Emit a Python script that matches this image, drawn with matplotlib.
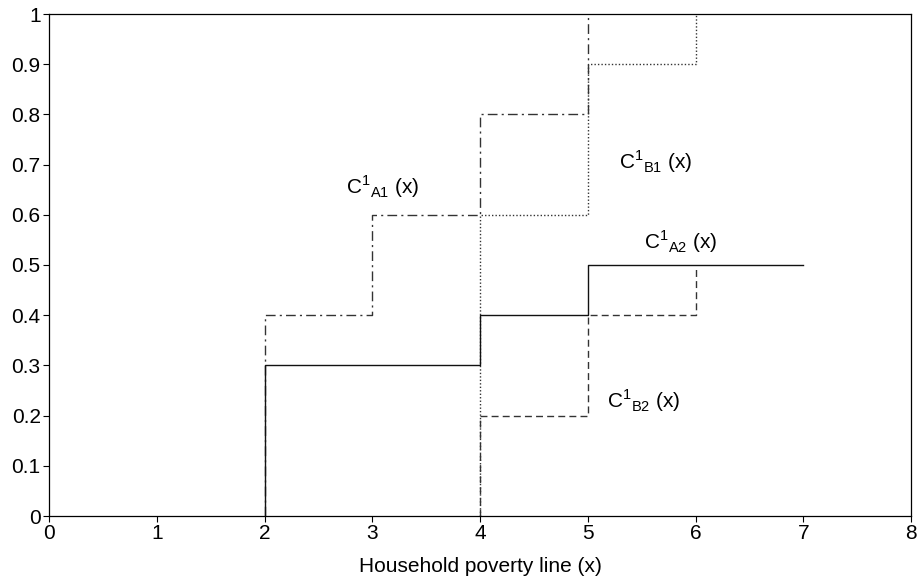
import matplotlib
matplotlib.use('Agg')
import matplotlib.pyplot as plt

plt.rcParams['font.family'] = ['Liberation Sans', 'DejaVu Sans']
plt.rcParams['mathtext.fontset'] = 'custom'
plt.rcParams['mathtext.rm'] = 'Liberation Sans'

# step curves: x breakpoints and the level reached at each one
a1_x = [2, 2, 3, 3, 4, 4, 5, 5]
a1_y = [0, 0.4, 0.4, 0.6, 0.6, 0.8, 0.8, 1.0]

b1_x = [4, 4, 5, 5, 6, 6]
b1_y = [0, 0.6, 0.6, 0.9, 0.9, 1.0]

a2_x = [2, 2, 4, 4, 5, 5, 7]
a2_y = [0, 0.3, 0.3, 0.4, 0.4, 0.5, 0.5]

b2_x = [4, 4, 5, 5, 6, 6]
b2_y = [0, 0.2, 0.2, 0.4, 0.4, 0.5]

labels = ['A1', 'B1', 'A2', 'B2']
label_pos = [(3.10, 0.655), (5.63, 0.705), (5.86, 0.546), (5.52, 0.229)]

fig = plt.figure(figsize=(9.22, 5.82), dpi=100)
ax = fig.add_axes([49 / 922, 66 / 582, 862 / 922, 502 / 582])

lw = 1.0
ax.plot(b1_x, b1_y, color='#333333', lw=lw, linestyle=(0, (1, 1.5)))
ax.plot(b2_x, b2_y, color='#333333', lw=lw, linestyle=(0, (5, 3)))
ax.plot(a1_x, a1_y, color='#333333', lw=lw, linestyle=(0, (7, 3, 1.5, 3)))
ax.plot(a2_x, a2_y, color='#111111', lw=lw, linestyle='-')

for name, (lx, ly) in zip(labels, label_pos):
    ax.text(lx, ly, r'C$^{\mathregular{1}}$$_{\mathregular{%s}}$ (x)' % name,
            fontsize=15, ha='center', va='center')

ax.set_xlim(0, 8)
ax.set_ylim(0, 1)
ax.set_xticks(range(0, 9))
ax.set_yticks([i / 10 for i in range(11)])
ax.set_yticklabels(['0'] + ['0.%d' % i for i in range(1, 10)] + ['1'])
ax.tick_params(direction='out', length=4, width=0.8, labelsize=15,
               top=False, right=False, pad=2)
for s in ax.spines.values():
    s.set_linewidth(0.9)
ax.set_xlabel('Household poverty line (x)', fontsize=15, labelpad=10)

fig.savefig('out.png', dpi=100)
